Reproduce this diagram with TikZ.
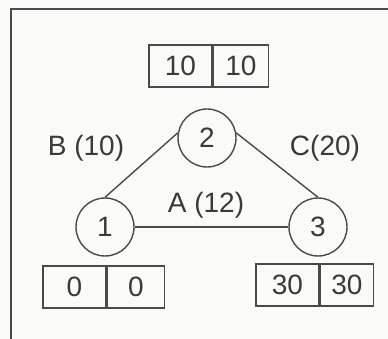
\documentclass[tikz,border=0pt]{standalone}
\usepackage{fontspec}
\setmainfont{Liberation Sans}
\definecolor{ink}{HTML}{3A3A3A}
\definecolor{linec}{HTML}{4A4A4A}
\definecolor{paper}{HTML}{FAFAF8}
\begin{document}
\begin{tikzpicture}[x=1pt,y=-1pt,
  every node/.style={font=\fontsize{28}{30}\selectfont, text=ink},
  vertex/.style={circle, draw=linec, line width=1.4pt, minimum size=58pt, inner sep=0pt},
  cell/.style={draw=linec, line width=1.4pt, minimum height=42pt, inner sep=0pt},
  lbl/.style={inner sep=0pt},
  edge/.style={draw=linec, line width=1.4pt}]
\clip (0,0) rectangle (388,339);
\fill[paper] (0,0) rectangle (388,339);
\draw[linec, line width=1.6pt] (11,9) rectangle (395,350);
% nodes
\node[vertex] (n2) at (207,138) {2};
\node[vertex] (n1) at (105,227) {1};
\node[vertex] (n3) at (318,227) {3};
% edges
\draw[edge] (n1.north) -- (n2.170);
\draw[edge] (n2.10) -- (n3.north);
\draw[edge] (n1.east) -- (n3.west);
% labels
\node[lbl] (lb) at (86,148) {B (10)};
\node[lbl] (lc) at (325,148) {C(20)};
\node[lbl] (la) at (206,205) {A (12)};
% boxes
\node[cell, minimum width=63pt] (t2a) at (180.5,66) {10};
\node[cell, minimum width=55pt, anchor=west] (t2b) at (t2a.east) {10};
\node[cell, minimum width=63pt] (t1a) at (74.5,287) {0};
\node[cell, minimum width=57pt, anchor=west] (t1b) at (t1a.east) {0};
\node[cell, minimum width=63pt] (t3a) at (287.5,285) {30};
\node[cell, minimum width=53pt, anchor=west] (t3b) at (t3a.east) {30};
\end{tikzpicture}
\end{document}
